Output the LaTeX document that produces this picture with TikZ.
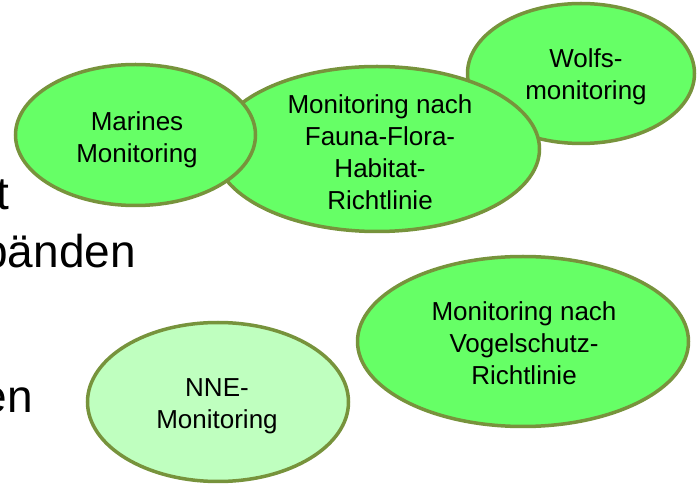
\documentclass[tikz,border=0pt]{standalone}
\usepackage{fontspec}
\setmainfont{Liberation Sans}
\usepackage{xcolor}
\usepackage{tikz}
\usetikzlibrary{shapes.geometric}

\definecolor{bubblefill}{HTML}{66FF66}
\definecolor{bubblelight}{HTML}{BFFFBF}
\definecolor{bubbleedge}{HTML}{77933C}

\tikzset{
    bubble/.style={ellipse, draw=bubbleedge, line width=3.5pt, fill=bubblefill, inner sep=0pt},
    bubbletext/.style={align=center, inner sep=0pt, font=\fontsize{26}{32}\selectfont},
    backtext/.style={inner sep=0pt, font=\fontsize{46}{55}\selectfont}
}

\begin{document}
\begin{tikzpicture}[x=1pt,y=-1pt]
        \useasboundingbox (0, 0) rectangle (697, 486);
        \clip (0, 0) rectangle (697, 486);
        \node [backtext, anchor=base east] (line-t) at (9, 210) {t};
        \node [backtext, anchor=base east] (line-baenden) at (136, 268) {bänden};
        \node [backtext, anchor=base east] (line-en) at (33, 413) {en};
        \node [bubble, minimum width=227, minimum height=140] (wolfs) at (581, 73.5) {};
        \node [bubbletext] (wolfs-text) at (586, 76.5) {Wolfs-\\monitoring};
        \node [bubble, minimum width=325, minimum height=165] (ffh) at (377, 149) {};
        \node [bubbletext] (ffh-text) at (380, 152) {Monitoring nach\\Fauna-Flora-\\Habitat-\\Richtlinie};
        \node [bubble, minimum width=240, minimum height=141] (marines) at (135.5, 135) {};
        \node [bubbletext] (marines-text) at (137, 140) {Marines\\Monitoring};
        \node [bubble, minimum width=331, minimum height=170] (vogel) at (523, 341.5) {};
        \node [bubbletext] (vogel-text) at (524, 343) {Monitoring nach\\Vogelschutz-\\Richtlinie};
        \node [bubble, fill=bubblelight, minimum width=261, minimum height=159] (nne) at (218, 402) {};
        \node [bubbletext] (nne-text) at (217, 406) {NNE-\\Monitoring};
    \end{tikzpicture}
\end{document}
